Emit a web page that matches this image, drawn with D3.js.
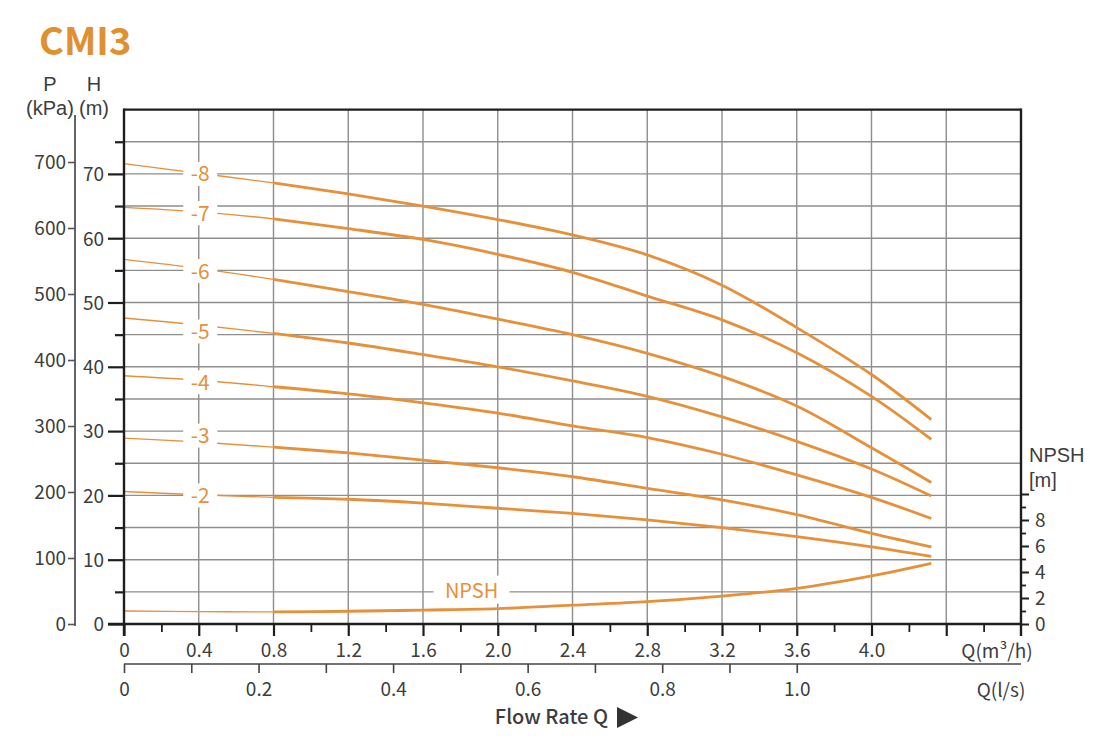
<!DOCTYPE html>
<html><head><meta charset="utf-8">
<script src="https://cdn.jsdelivr.net/npm/d3@7"></script>
<style>body{margin:0;background:#fff}</style>
</head><body>
<svg id="c" width="1100" height="739"></svg>
<script>
// ---- data ----
const flowQ   = [0, 0.4, 0.8, 1.2, 1.6, 2.0, 2.4, 2.8, 3.2, 3.6, 4.0, 4.32]; // m3/h
const stageNames = ["-8", "-7", "-6", "-5", "-4", "-3", "-2"];
const headS8 = [71.6, 70.1, 68.6, 66.9, 65.0, 62.9, 60.5, 57.4, 52.7, 46.1, 38.8, 31.8];
const headS7 = [64.8, 64.1, 63.0, 61.5, 59.8, 57.5, 54.7, 51.0, 47.3, 42.2, 35.4, 28.7];
const headS6 = [56.7, 55.3, 53.6, 51.7, 49.7, 47.4, 45.0, 42.1, 38.5, 33.9, 27.4, 22.0];
const headS5 = [47.6, 46.5, 45.2, 43.7, 41.9, 40.0, 37.8, 35.4, 32.2, 28.4, 24.1, 19.9];
const headS4 = [38.6, 37.9, 36.9, 35.8, 34.4, 32.8, 30.8, 29.0, 26.4, 23.2, 19.7, 16.4];
const headS3 = [28.9, 28.3, 27.5, 26.6, 25.5, 24.3, 22.9, 21.1, 19.3, 17.0, 14.1, 12.0];
const headS2 = [20.6, 20.1, 19.7, 19.4, 18.8, 18.0, 17.2, 16.2, 15.0, 13.6, 12.0, 10.5];
const npshM  = [1.0, 0.95, 0.93, 0.98, 1.07, 1.18, 1.45, 1.72, 2.15, 2.74, 3.7, 4.67];
const labelHead = [70.0, 63.9, 54.9, 45.5, 37.6, 29.3, 20.0]; // label anchor (m) at Q=0.4
const labelQ = 0.4;
const npshLabelQ = 1.86, npshLabelH = 5.2;
const qTicksM3h = [0, 0.4, 0.8, 1.2, 1.6, 2.0, 2.4, 2.8, 3.2, 3.6, 4.0];
const qLabelsM3h = ["0","0.4","0.8","1.2","1.6","2.0","2.4","2.8","3.2","3.6","4.0"];
const qTicksLs = [0, 0.2, 0.4, 0.6, 0.8, 1.0];
const qLabelsLs = ["0","0.2","0.4","0.6","0.8","1.0"];
const hTicks = [0, 10, 20, 30, 40, 50, 60, 70];
const pTicks = [0, 100, 200, 300, 400, 500, 600, 700];
const npshTicks = [0, 2, 4, 6, 8];

const heads = [headS8, headS7, headS6, headS5, headS4, headS3, headS2];

// ---- layout ----
const FONT = "'Noto Sans CJK SC','Source Sans Pro','Noto Sans',sans-serif";
const FONT2 = "'Liberation Sans',Arial,sans-serif";
const ORANGE = "#E6913A";
const TEXT = "#3d3d3d";
const GRID = "#8e8e8e";
const DARK = "#1e1e1e";

const svg = d3.select("#c").style("font-family", FONT);

const x = d3.scaleLinear([0, 4.8], [124, 1021]);
const xLs = d3.scaleLinear([0, 4.8 / 3.6], [124, 1021]);
const y = d3.scaleLinear([0, 80], [624, 109.6]);
const p = d3.scaleLinear([0, 700], [624, 162]);
const n = d3.scaleLinear([0, 10], [624, 494]);

// grid
const grid = svg.append("g").attr("stroke", GRID).attr("stroke-width", 1.4);
grid.selectAll("line.v").data(d3.range(1, 12).map(i => i * 0.4)).join("line")
  .attr("x1", d => x(d)).attr("x2", d => x(d)).attr("y1", y(80)).attr("y2", y(0));
grid.selectAll("line.h").data(d3.range(1, 16).map(i => i * 5)).join("line")
  .attr("x1", x(0)).attr("x2", x(4.8)).attr("y1", d => y(d)).attr("y2", d => y(d));

// curves
const line = d3.line().x(d => x(d[0])).y(d => y(d[1])).curve(d3.curveCatmullRom.alpha(0.5));
const lineN = d3.line().x(d => x(d[0])).y(d => n(d[1])).curve(d3.curveCatmullRom.alpha(0.5));
const curves = svg.append("g").attr("fill", "none").attr("stroke", ORANGE);
heads.forEach(h => {
  const pts = flowQ.map((q, i) => [q, h[i]]);
  curves.append("path").attr("d", line(pts.slice(0, 4))).attr("stroke-width", 1.4);
  curves.append("path").attr("d", line(pts.slice(2))).attr("stroke-width", 2.8);
});
const np = flowQ.map((q, i) => [q, npshM[i]]);
curves.append("path").attr("d", lineN(np.slice(0, 4))).attr("stroke-width", 1.4);
curves.append("path").attr("d", lineN(np.slice(2))).attr("stroke-width", 2.8);

// curve labels with knockout
const lab = svg.append("g");
stageNames.forEach((s, i) => {
  const cx = x(labelQ) + 1.5, cy = y(labelHead[i]);
  lab.append("rect").attr("x", cx - 17).attr("y", cy - 12).attr("width", 34).attr("height", 24).attr("fill", "#fff");
  lab.append("text").attr("x", cx).attr("y", cy).attr("dy", "0.36em").attr("text-anchor", "middle")
    .attr("fill", ORANGE).attr("font-size", 21).text(s);
});
{
  const cx = x(npshLabelQ), cy = y(npshLabelH);
  lab.append("rect").attr("x", cx - 38).attr("y", cy - 15).attr("width", 76).attr("height", 28).attr("fill", "#fff");
  lab.append("text").attr("x", cx).attr("y", cy).attr("dy", "0.36em").attr("text-anchor", "middle")
    .attr("fill", ORANGE).attr("font-size", 20).text("NPSH");
}

// frame
const frame = svg.append("g").attr("stroke", DARK).attr("stroke-width", 2.4).attr("fill", "none");
frame.append("line").attr("x1", x(0)).attr("x2", x(4.8)).attr("y1", y(80)).attr("y2", y(80));
frame.append("line").attr("x1", x(0)).attr("x2", x(0)).attr("y1", y(80) - 1.2).attr("y2", 636);
frame.append("line").attr("x1", x(4.8)).attr("x2", x(4.8)).attr("y1", y(80) - 1.2).attr("y2", 636);
frame.append("line").attr("x1", 108).attr("x2", x(4.8)).attr("y1", y(0)).attr("y2", y(0));

function styleAxis(g, sw) {
  g.select(".domain").remove();
  g.selectAll(".tick line").attr("stroke", DARK).attr("stroke-width", sw);
  g.selectAll("text").attr("fill", TEXT).attr("font-size", 19).attr("font-family", FONT);
}

// bottom m3/h axis
svg.append("g").attr("transform", `translate(0,${y(0)})`)
  .call(d3.axisBottom(x).tickValues(d3.range(1, 24, 2).map(i => i * 0.2)).tickSize(8).tickFormat(""))
  .call(g => styleAxis(g, 1.8));
svg.append("g").attr("transform", `translate(0,${y(0)})`)
  .call(d3.axisBottom(x).tickValues(d3.range(0, 12).map(i => i * 0.4)).tickSize(12)
        .tickFormat(d => { const k = qTicksM3h.findIndex(v => Math.abs(v - d) < 1e-9); return k >= 0 ? qLabelsM3h[k] : ""; }))
  .call(g => styleAxis(g, 2.2))
  .call(g => g.selectAll("text").attr("y", 26).attr("dy", "0.36em"));
svg.append("text").attr("x", 997).attr("y", 651).attr("dy", "0.36em").attr("text-anchor", "middle")
  .attr("fill", TEXT).attr("font-size", 19).text("Q(m³/h)");

// bottom l/s axis
const ls = svg.append("g").attr("transform", "translate(0,664)");
ls.append("line").attr("x1", x(0)).attr("x2", x(4.8)).attr("stroke", "#444").attr("stroke-width", 1.6);
ls.call(d3.axisBottom(xLs).tickValues(d3.range(0, 11).map(i => i * 0.1)).tickSize(9)
        .tickFormat(d => { const k = qTicksLs.findIndex(v => Math.abs(v - d) < 1e-9); return k >= 0 ? qLabelsLs[k] : ""; }))
  .call(g => styleAxis(g, 1.6))
  .call(g => g.selectAll(".tick line").attr("stroke", "#444"))
  .call(g => g.selectAll("text").attr("y", 25).attr("dy", "0.36em"));
svg.append("text").attr("x", 1001).attr("y", 690).attr("dy", "0.36em").attr("text-anchor", "middle")
  .attr("fill", TEXT).attr("font-size", 19).text("Q(l/s)");

// flow rate title
svg.append("text").attr("x", 608).attr("y", 717).attr("dy", "0.36em").attr("text-anchor", "end")
  .attr("fill", TEXT).attr("font-size", 20).attr("font-weight", 500).text("Flow Rate Q");
svg.append("path").attr("d", "M617,707 L638,717.5 L617,728 Z").attr("fill", "#333");

// left H axis
svg.append("g").attr("transform", `translate(${x(0)},0)`)
  .call(d3.axisLeft(y).tickValues(d3.range(1, 16, 2).map(i => i * 5)).tickSize(9).tickFormat(""))
  .call(g => styleAxis(g, 2.2));
svg.append("g").attr("transform", `translate(${x(0)},0)`)
  .call(d3.axisLeft(y).tickValues(hTicks).tickSize(16).tickPadding(4))
  .call(g => styleAxis(g, 2.2))
  .call(g => g.selectAll("text").attr("dy", "0.36em"));

// P axis
svg.append("line").attr("x1", 75).attr("x2", 75).attr("y1", 115).attr("y2", 626).attr("stroke", "#555").attr("stroke-width", 1.8);
svg.append("g").attr("transform", "translate(75,0)")
  .call(d3.axisLeft(p).tickValues(pTicks).tickSize(7).tickPadding(2))
  .call(g => styleAxis(g, 1.6))
  .call(g => g.selectAll(".tick line").attr("stroke", "#555"))
  .call(g => g.selectAll("text").attr("dy", "0.36em"));

// axis titles
function title(cx, cy, txt, anchor) {
  svg.append("text").attr("x", cx).attr("y", cy).attr("dy", "0.36em").attr("text-anchor", anchor)
    .attr("fill", TEXT).attr("font-size", 20).attr("font-family", FONT2).text(txt);
}
title(50, 84, "P", "middle");
title(50, 108, "(kPa)", "middle");
title(94, 84, "H", "middle");
title(94, 108, "(m)", "middle");
title(1029, 455, "NPSH", "start");
title(1029, 480, "[m]", "start");

// NPSH axis
svg.append("g").attr("transform", `translate(${x(4.8)},0)`)
  .call(d3.axisRight(n).tickValues([1, 3, 5, 7, 9]).tickSize(5).tickFormat(""))
  .call(g => styleAxis(g, 1.8));
svg.append("g").attr("transform", `translate(${x(4.8)},0)`)
  .call(d3.axisRight(n).tickValues([0, 2, 4, 6, 8, 10]).tickSize(8).tickPadding(6)
        .tickFormat(d => npshTicks.includes(d) ? String(d) : ""))
  .call(g => styleAxis(g, 2))
  .call(g => g.selectAll("text").attr("dy", "0.36em"));

// title
svg.append("text").attr("x", 39).attr("y", 55).attr("fill", "#E0902F").attr("font-size", 38)
  .attr("font-weight", 700).text("CMI3");
</script>
</body></html>
